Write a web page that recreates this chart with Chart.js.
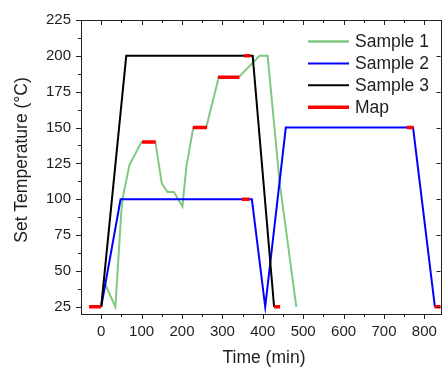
<!DOCTYPE html>
<html>
<head>
<meta charset="utf-8">
<script src="https://cdn.jsdelivr.net/npm/chart.js@4.4.1/dist/chart.umd.min.js"></script>
<style>
  html, body { margin: 0; padding: 0; background: #fff; overflow: hidden; }
  #wrap { width: 446px; height: 367px; }
</style>
</head>
<body>
<div id="wrap"><canvas id="c" width="446" height="367"></canvas></div>
<script>
// Temperature programmes (time in min, set temperature in °C)
const sample1Time = [0, 8, 35, 50, 54, 70, 100, 134, 150, 164, 180, 201, 211, 228, 260, 291, 340, 392, 412, 442, 483];
const sample1Temp = [25, 42, 25, 92, 102, 124, 140, 140, 111, 105, 105, 95, 123, 150, 150, 185, 185, 200, 200, 111, 25];

const sample2Time = [0, 48, 373, 406, 457, 772, 826];
const sample2Temp = [25, 100, 100, 25, 150, 150, 25];

const sample3Time = [0, 62, 375, 428];
const sample3Temp = [25, 200, 200, 25];

// Mapping holds: start time, end time, temperature
const mapStart = [-30, 101, 227, 289, 354, 348, 428, 756, 825];
const mapEnd   = [0, 135, 262, 342, 369, 367, 443, 773, 845];
const mapTemp  = [25, 140, 150, 185, 200, 100, 25, 150, 25];

const xTicks = [0, 100, 200, 300, 400, 500, 600, 700, 800];
const yTicks = [25, 50, 75, 100, 125, 150, 175, 200, 225];

const seriesNames = ['Sample 1', 'Sample 2', 'Sample 3', 'Map'];
const xTitle = 'Time (min)';
const yTitle = 'Set Temperature (\u00B0C)';

const FONT = '"Liberation Sans", Arial, sans-serif';
const INK = '#1e1e1e';

function pts(t, v) { return t.map((x, i) => ({ x: x, y: v[i] })); }
function mapPts() {
  const out = [];
  mapStart.forEach((s, i) => {
    out.push({ x: s, y: mapTemp[i] }, { x: mapEnd[i], y: mapTemp[i] }, { x: mapEnd[i], y: null });
  });
  return out;
}

// Frame, minor/major ticks, axis titles and the in-plot legend
const decor = {
  id: 'decor',
  afterDraw(chart) {
    const ctx = chart.ctx, ca = chart.chartArea;
    const xs = chart.scales.x, ys = chart.scales.y;
    ctx.save();
    ctx.strokeStyle = '#222';
    ctx.lineWidth = 1;
    ctx.strokeRect(Math.round(ca.left) + 0.5, Math.round(ca.top) + 0.5,
                   Math.round(ca.right - ca.left), Math.round(ca.bottom - ca.top));
    ctx.beginPath();
    for (let v = 0; v <= xs.max; v += 50) {
      const px = Math.round(xs.getPixelForValue(v)) + 0.5;
      const major = v % 100 === 0;
      const len = major ? 5 : 3;
      ctx.moveTo(px, ca.bottom); ctx.lineTo(px, ca.bottom + len);
      ctx.moveTo(px, ca.top); ctx.lineTo(px, ca.top + len);
    }
    for (let v = 25; v <= ys.max; v += 12.5) {
      const py = Math.round(ys.getPixelForValue(v)) + 0.5;
      const major = (v - 25) % 25 === 0;
      const len = major ? 5 : 3;
      ctx.moveTo(ca.left - len, py); ctx.lineTo(ca.left, py);
      if (major) { ctx.moveTo(ca.right - 4, py); ctx.lineTo(ca.right, py); }
    }
    ctx.stroke();

    // axis titles
    ctx.fillStyle = INK;
    ctx.font = '17.5px ' + FONT;
    ctx.textAlign = 'center';
    ctx.textBaseline = 'middle';
    ctx.fillText(xTitle, 264, 358);
    ctx.save();
    ctx.translate(22, 160);
    ctx.rotate(-Math.PI / 2);
    ctx.fillText(yTitle, 0, 0);
    ctx.restore();

    // legend
    chart.data.datasets.forEach((ds, i) => {
      const y = 41.5 + i * 21.9;
      ctx.beginPath();
      ctx.strokeStyle = ds.borderColor;
      ctx.lineWidth = ds.borderWidth + (i === 0 ? 0.5 : 0);
      ctx.moveTo(308, y); ctx.lineTo(349, y);
      ctx.stroke();
      ctx.fillStyle = INK;
      ctx.textAlign = 'left';
      ctx.fillText(ds.label, 355, y + 1);
    });
    ctx.restore();
  }
};

new Chart(document.getElementById('c'), {
  type: 'line',
  data: {
    datasets: [
      { label: seriesNames[0], data: pts(sample1Time, sample1Temp), borderColor: '#80c880', borderWidth: 2, order: 3 },
      { label: seriesNames[1], data: pts(sample2Time, sample2Temp), borderColor: '#0000ff', borderWidth: 2, order: 2 },
      { label: seriesNames[2], data: pts(sample3Time, sample3Temp), borderColor: '#000000', borderWidth: 2, order: 1 },
      { label: seriesNames[3], data: mapPts(), borderColor: '#ff0000', borderWidth: 3.5, order: 0, spanGaps: false }
    ]
  },
  options: {
    responsive: false,
    animation: false,
    devicePixelRatio: 1,
    parsing: true,
    elements: { point: { radius: 0 }, line: { tension: 0, borderCapStyle: 'butt' } },
    layout: { padding: { top: 20, right: 2.5, left: 0, bottom: 0 } },
    plugins: { legend: { display: false }, tooltip: { enabled: false } },
    scales: {
      x: {
        type: 'linear', min: -50, max: 840,
        afterBuildTicks: s => { s.ticks = xTicks.map(v => ({ value: v })); },
        afterFit: s => { s.height = 53; },
        grid: { display: false, drawTicks: false },
        border: { display: false },
        ticks: { font: { family: FONT, size: 15 }, color: INK, padding: 9, maxRotation: 0, autoSkip: false }
      },
      y: {
        type: 'linear', min: 20, max: 225,
        afterBuildTicks: s => { s.ticks = yTicks.map(v => ({ value: v })); },
        afterFit: s => { s.width = 81; },
        grid: { display: false, drawTicks: false },
        border: { display: false },
        ticks: { font: { family: FONT, size: 15 }, color: INK, padding: 10, autoSkip: false }
      }
    }
  },
  plugins: [decor]
});
</script>
</body>
</html>
